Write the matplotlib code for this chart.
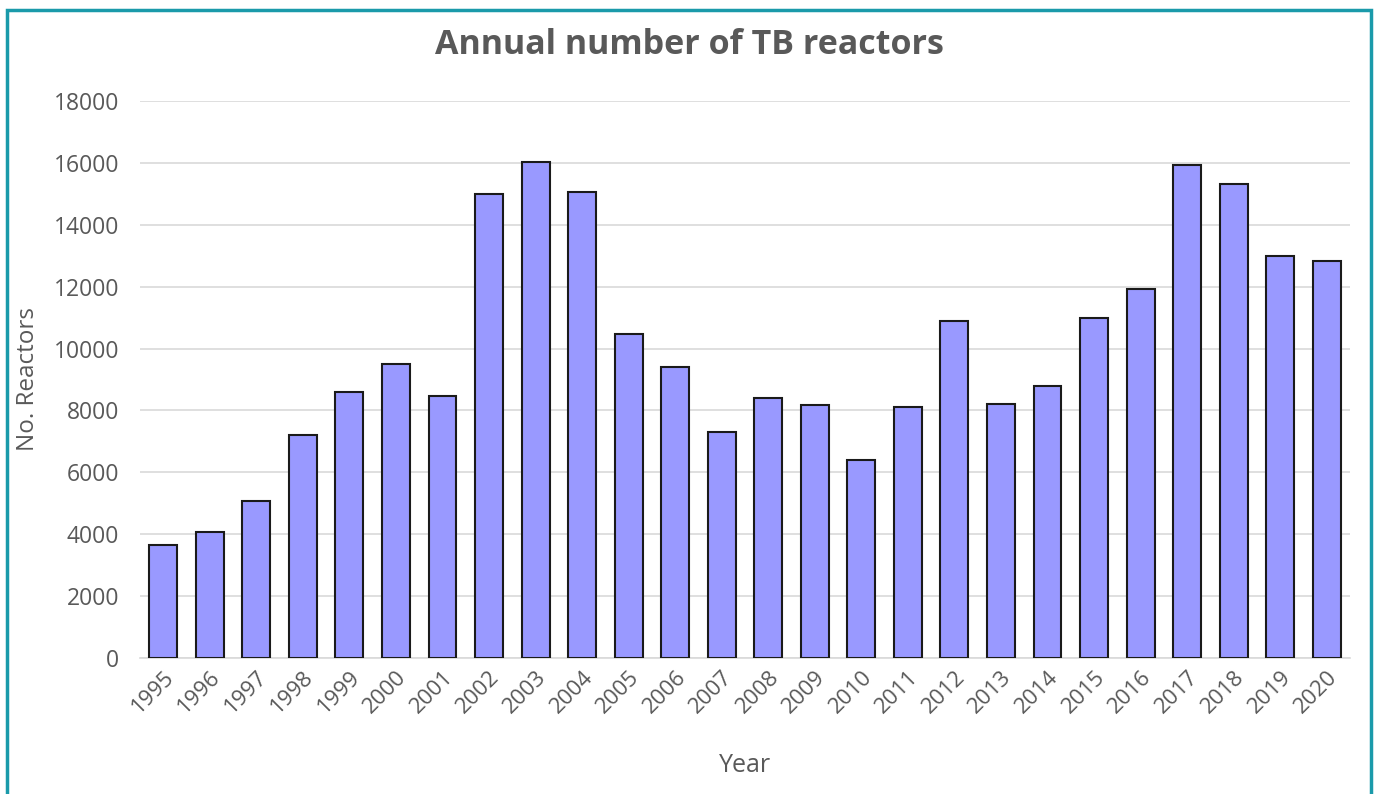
import numpy as np
import matplotlib.pyplot as plt
from matplotlib.patches import Rectangle

years = [str(y) for y in range(1995, 2021)]
reactors = [3650, 4070, 5070, 7200, 8600, 9500, 8470, 15000, 16030, 15060,
            10470, 9400, 7300, 8400, 8180, 6400, 8110, 10890, 8210, 8790,
            11000, 11930, 15920, 15330, 13000, 12840]
yticks = list(range(0, 18001, 2000))

plt.rcParams['font.family'] = ['Open Sans', 'DejaVu Sans']
text_col = '#595959'

fig = plt.figure(figsize=(13.78, 7.94), dpi=100)
ax = fig.add_axes([0.1016, 0.1713, 0.8781, 0.7015])

x = np.arange(len(years))
ax.bar(x, reactors, width=0.6, color='#9999ff', edgecolor='#1a1a1a', linewidth=1.5, zorder=3)

ax.set_xlim(-0.5, len(years) - 0.5)
ax.set_ylim(0, 18000)
ax.set_yticks(yticks)
ax.set_yticklabels([str(t) for t in yticks], fontsize=16.5, color=text_col)
ax.set_xticks(x)
ax.set_xticklabels(years, rotation=45, ha='right', rotation_mode='anchor', fontsize=16, color=text_col)
ax.tick_params(axis='y', length=0, pad=15)
ax.tick_params(axis='x', length=0, pad=6)

ax.grid(axis='y', color='#d9d9d9', linewidth=1.2, zorder=0)
for s in ['top', 'right', 'left']:
    ax.spines[s].set_visible(False)
ax.spines['bottom'].set_color('#d9d9d9')
ax.spines['bottom'].set_linewidth(1.2)

ax.set_xlabel('Year', fontsize=18, color=text_col, labelpad=26)
ax.set_ylabel('No. Reactors', fontsize=17.5, color=text_col, labelpad=10)
fig.text(0.5, 0.943, 'Annual number of TB reactors', ha='center', va='center',
         fontsize=24.5, fontweight='bold', color=text_col)

# teal frame round the chart
fig.patches.append(Rectangle((7 / 1378, -0.05), 1364 / 1378, 1.05 - 10 / 794,
                             transform=fig.transFigure, fill=False,
                             edgecolor='#1a9aaa', linewidth=2.5))

fig.savefig('out.png', dpi=100)
